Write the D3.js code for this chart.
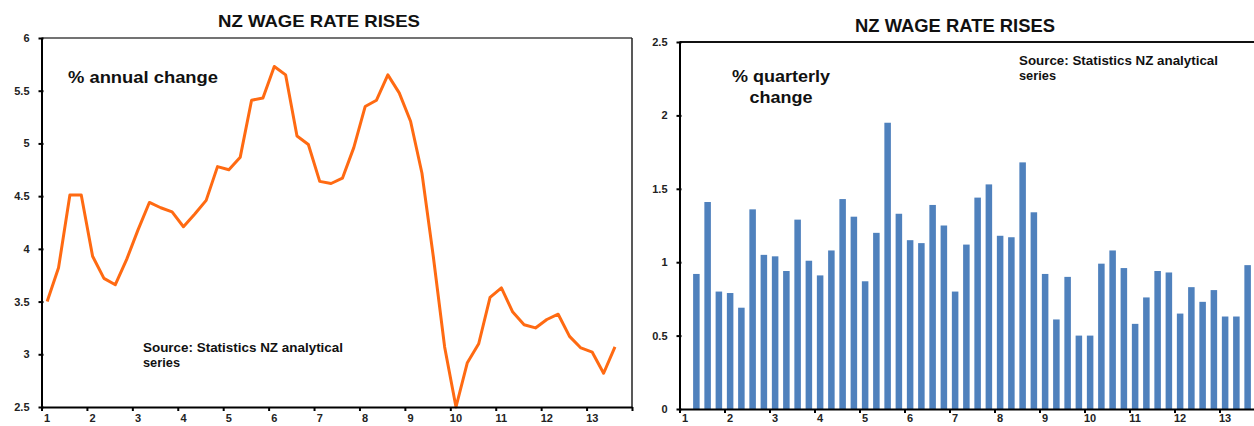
<!DOCTYPE html>
<html>
<head>
<meta charset="utf-8">
<script src="https://cdn.jsdelivr.net/npm/d3@7"></script>
<style>
  body { margin: 0; background: #fff; }
  svg { display: block; font-family: "Liberation Sans", Arial, sans-serif; }
  .axis text { font-size: 11px; font-weight: bold; fill: #222; }
  .axis path, .axis line { stroke: #000; stroke-width: 2; }
</style>
</head>
<body>
<svg id="chart" width="1254" height="426"></svg>
<script>
// years shown on the x axis, each split into four quarters
const years = ["1", "2", "3", "4", "5", "6", "7", "8", "9", "10", "11", "12", "13"];
const quarters = years.flatMap(y => ["Q1", "Q2", "Q3", "Q4"].map(q => y + q));

// % annual change, starting in the first quarter
const annualChange = [
  3.50, 3.82, 4.51, 4.51, 3.93, 3.72, 3.66, 3.90, 4.18, 4.44,
  4.39, 4.35, 4.21, 4.33, 4.46, 4.78, 4.75, 4.87, 5.41, 5.43,
  5.73, 5.65, 5.07, 4.99, 4.64, 4.62, 4.67, 4.96, 5.35, 5.41,
  5.65, 5.48, 5.21, 4.72, 3.93, 3.07, 2.50, 2.92, 3.10, 3.54,
  3.63, 3.40, 3.28, 3.25, 3.33, 3.38, 3.17, 3.06, 3.02, 2.82,
  3.07
];

// % quarterly change, starting in the second quarter
const quarterlyChange = [
  0.92, 1.41, 0.80, 0.79, 0.69, 1.36, 1.05, 1.04, 0.94, 1.29,
  1.01, 0.91, 1.08, 1.43, 1.31, 0.87, 1.20, 1.95, 1.33, 1.15,
  1.13, 1.39, 1.25, 0.80, 1.12, 1.44, 1.53, 1.18, 1.17, 1.68,
  1.34, 0.92, 0.61, 0.90, 0.50, 0.50, 0.99, 1.08, 0.96, 0.58,
  0.76, 0.94, 0.93, 0.65, 0.83, 0.73, 0.81, 0.63, 0.63, 0.98
];

const annualTicks = [2.5, 3, 3.5, 4, 4.5, 5, 5.5, 6];
const quarterlyTicks = [0, 0.5, 1, 1.5, 2, 2.5];

const svg = d3.select("#chart");

function drawXAxis(g, x, x0, x1, y0, pad) {
  // tick marks at year boundaries
  const xt = d3.scaleLinear().domain([0, quarters.length]).range([x0, x1]);
  g.append("g")
    .attr("class", "axis")
    .attr("transform", `translate(0,${y0})`)
    .call(d3.axisBottom(xt).tickValues(d3.range(0, quarters.length + 1, 4))
      .tickFormat("").tickSize(4).tickSizeOuter(0));
  // year labels under the first quarter of each year
  const lab = g.append("g")
    .attr("class", "axis")
    .attr("transform", `translate(0,${y0})`)
    .call(d3.axisBottom(x).tickValues(quarters.filter(q => q.endsWith("Q1")))
      .tickFormat(q => q.replace("Q1", "")).tickSize(0).tickPadding(pad));
  lab.select(".domain").remove();
}

function drawYAxis(g, y, ticks, x0, pad) {
  const ax = g.append("g")
    .attr("class", "axis")
    .attr("transform", `translate(${x0},0)`)
    .call(d3.axisLeft(y).tickValues(ticks).tickFormat(d => String(d))
      .tickSize(3).tickSizeOuter(0).tickPadding(pad));
  ax.selectAll(".tick line").attr("x1", 2);
}

function textAt(g, x, y, str, size, len, anchor) {
  g.append("text")
    .attr("x", x).attr("y", y)
    .attr("text-anchor", anchor || "start")
    .attr("font-size", size + "px")
    .attr("font-weight", "bold")
    .attr("fill", "#111")
    .attr("textLength", len)
    .attr("lengthAdjust", "spacingAndGlyphs")
    .text(str);
}

// ---------- left: annual change line ----------
(function () {
  const left = 41.5, right = 632, top = 38, bottom = 407;
  const g = svg.append("g");

  const x = d3.scaleBand().domain(quarters).range([left, right]).padding(0);
  const y = d3.scaleLinear().domain([2.5, 6]).range([bottom, top]);

  g.append("line")
    .attr("x1", left).attr("x2", right).attr("y1", top).attr("y2", top)
    .attr("stroke", "#444").attr("stroke-width", 1.5);
  g.append("line")
    .attr("x1", right).attr("x2", right).attr("y1", top).attr("y2", bottom)
    .attr("stroke", "#222").attr("stroke-width", 1.5);

  const line = d3.line()
    .x((d, i) => x(quarters[i]) + x.bandwidth() / 2)
    .y(d => y(d));

  g.append("path")
    .datum(annualChange)
    .attr("d", line)
    .attr("fill", "none")
    .attr("stroke", "#ff6a12")
    .attr("stroke-width", 3)
    .attr("stroke-linejoin", "round");

  drawYAxis(g, y, annualTicks, left, 9);
  drawXAxis(g, x, left, right, bottom, 7);

  textAt(g, 319, 27.3, "NZ WAGE RATE RISES", 17, 202, "middle");
  textAt(g, 68, 83, "% annual change", 17, 150);
  textAt(g, 143, 352, "Source: Statistics NZ analytical", 13, 200);
  textAt(g, 143, 367, "series", 13, 37);
})();

// ---------- right: quarterly change bars ----------
(function () {
  const left = 679.5, top = 42, bottom = 409;
  const right = left + quarters.length * 11.25;
  const g = svg.append("g");

  const x = d3.scaleBand().domain(quarters).range([left, right])
    .paddingInner(0.42).paddingOuter(0.21);
  const y = d3.scaleLinear().domain([0, 2.5]).range([bottom, top]);

  g.append("line")
    .attr("x1", left).attr("x2", right).attr("y1", top).attr("y2", top)
    .attr("stroke", "#111").attr("stroke-width", 2);

  g.selectAll("rect")
    .data(quarterlyChange)
    .enter().append("rect")
    .attr("x", (d, i) => x(quarters[i + 1]))
    .attr("y", d => y(d))
    .attr("width", x.bandwidth())
    .attr("height", d => bottom - y(d))
    .attr("fill", "#4f81bd");

  drawYAxis(g, y, quarterlyTicks, left, 9);
  drawXAxis(g, x, left, right, bottom, 5);

  textAt(g, 955, 31.5, "NZ WAGE RATE RISES", 18, 200, "middle");
  textAt(g, 781, 82, "% quarterly", 17, 98, "middle");
  textAt(g, 781, 102.5, "change", 17, 63, "middle");
  textAt(g, 1019, 64.5, "Source: Statistics NZ analytical", 13, 199);
  textAt(g, 1019, 80, "series", 13, 37);
})();
</script>
</body>
</html>
